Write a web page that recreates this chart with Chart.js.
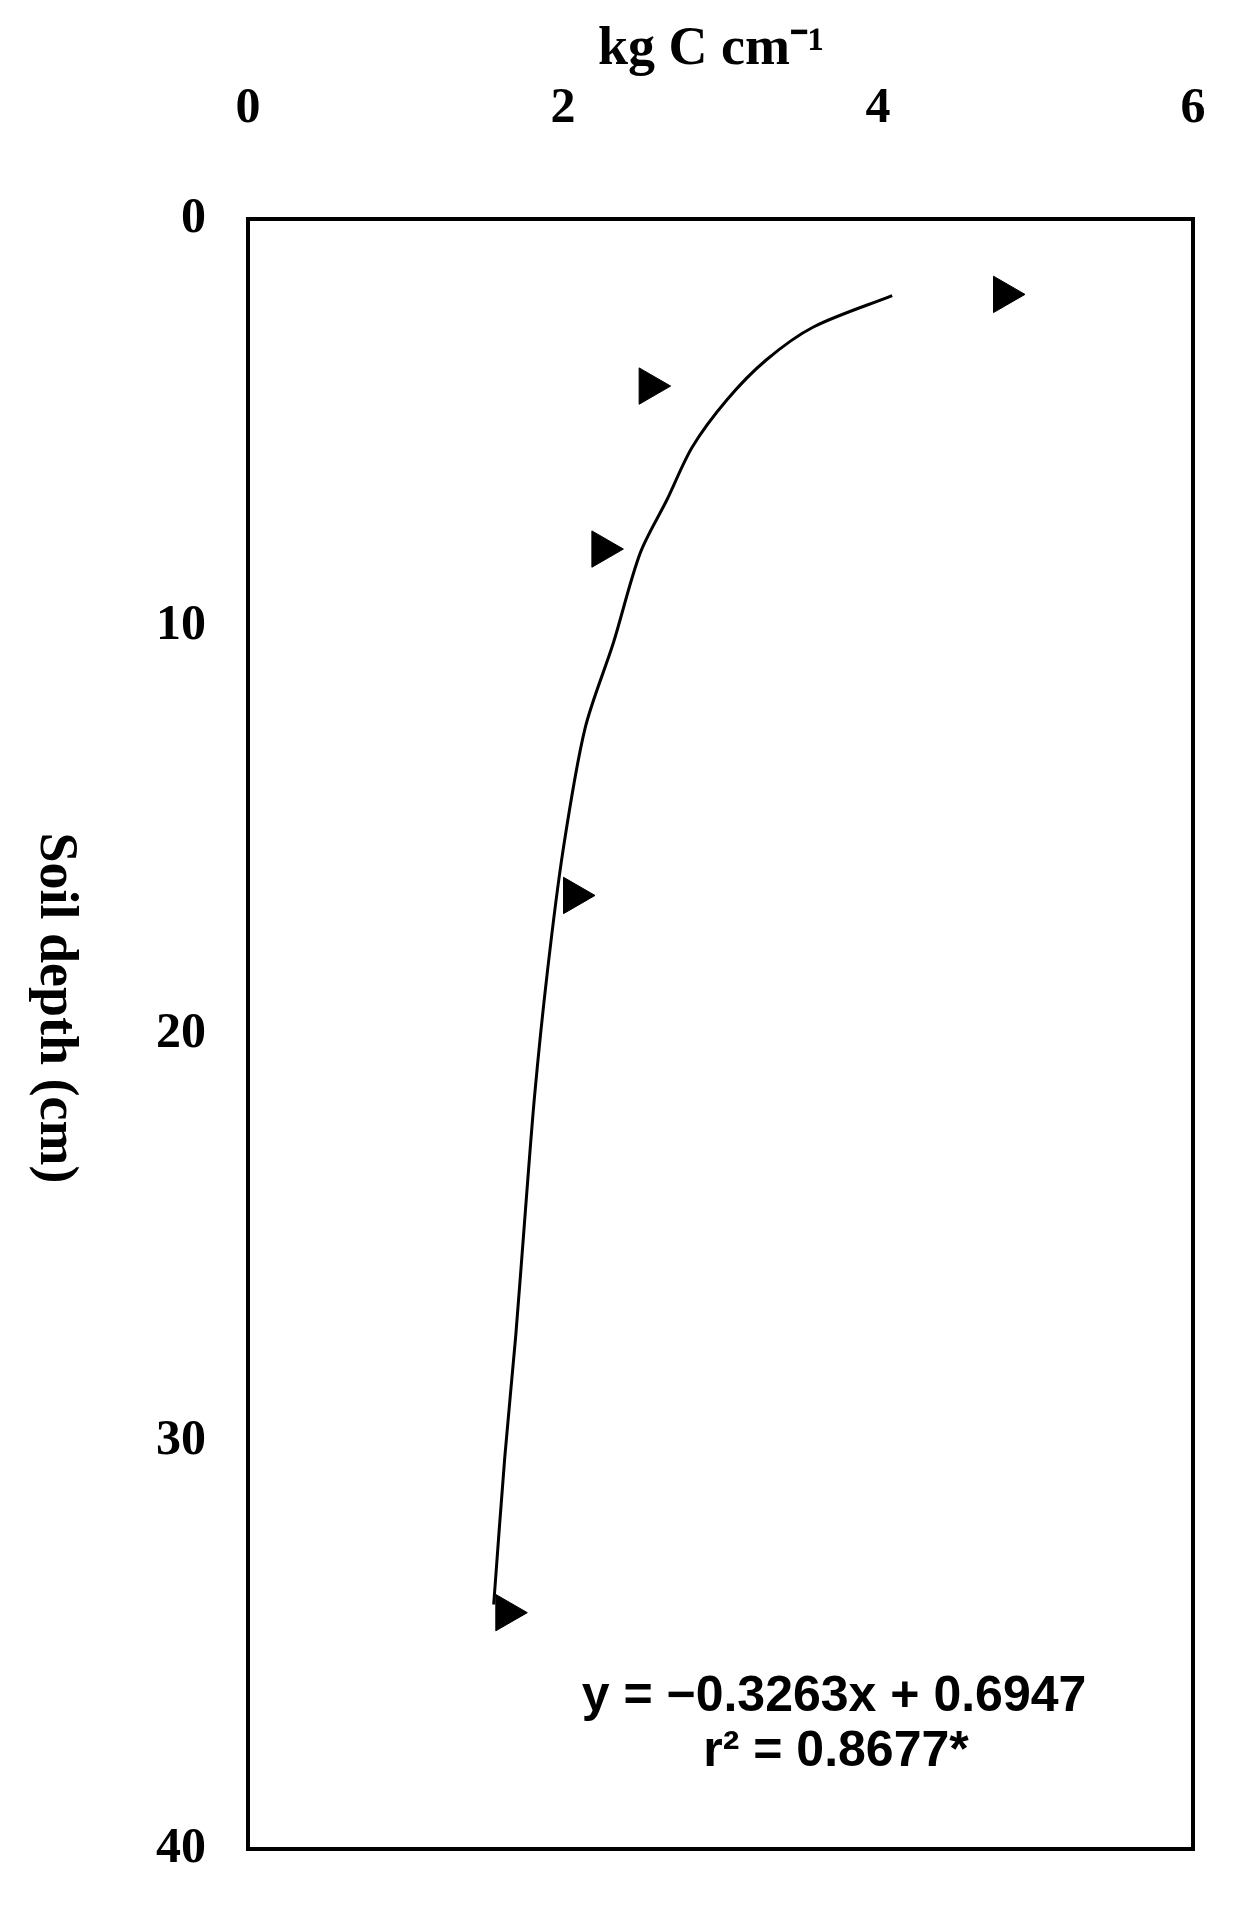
<!DOCTYPE html>
<html><head><meta charset="utf-8">
<script src="https://cdn.jsdelivr.net/npm/chart.js@4/dist/chart.umd.min.js"></script>
<style>html,body{margin:0;padding:0;background:#fff}#wrap{width:1244px;height:1916px}</style>
</head><body><div id="wrap"><canvas id="c" width="1244" height="1916"></canvas></div>
<script>
const carbonValues = [4.8, 2.55, 2.25, 2.07, 1.64];
const depthValues = [1.85, 4.1, 8.1, 16.6, 34.2];
const fitCarbon = [4.09, 3.59, 3.29, 3.04, 2.82, 2.66, 2.49, 2.32, 2.14, 2.0, 1.9, 1.82, 1.76, 1.7, 1.63, 1.56];
const fitDepth = [1.88, 2.65, 3.46, 4.44, 5.6, 6.89, 8.2, 10.4, 12.5, 15.5, 18.5, 21.5, 24.4, 27.4, 30.4, 34.0];
const xTicks = [0, 2, 4, 6];
const yTicks = [0, 10, 20, 30, 40];
const xTitle = 'kg C cm\u207B\u00B9';
const yTitle = 'Soil depth (cm)';
const eqLines = ['y = \u22120.3263x + 0.6947', 'r\u00B2 = 0.8677*'];

const serif = '"Liberation Serif", "Times New Roman", serif';
const extras = {
  id: 'extras',
  afterDraw(chart) {
    const ctx = chart.ctx, a = chart.chartArea;
    ctx.save();
    ctx.strokeStyle = '#000'; ctx.lineWidth = 4;
    ctx.strokeRect(a.left, a.top, a.right - a.left, a.bottom - a.top);
    ctx.fillStyle = '#000';
    ctx.textAlign = 'center'; ctx.textBaseline = 'middle';
    ctx.font = 'bold 54px ' + serif;
    ctx.fillText(xTitle, 711, 50);
    ctx.save();
    ctx.translate(55, 1008); ctx.rotate(Math.PI / 2);
    ctx.fillText(yTitle, 0, 0);
    ctx.restore();
    ctx.font = 'bold 50px "Liberation Sans", Arial, sans-serif';
    ctx.fillText(eqLines[0], 834, 1697);
    ctx.fillText(eqLines[1], 836, 1752);
    ctx.restore();
  }
};

new Chart(document.getElementById('c'), {
  type: 'scatter',
  data: { datasets: [
    { data: fitCarbon.map((x, i) => ({x, y: fitDepth[i]})), showLine: true, tension: 0.3,
      borderColor: '#000', borderWidth: 3, pointRadius: 0, fill: false },
    { data: carbonValues.map((x, i) => ({x, y: depthValues[i]})), pointStyle: 'triangle', rotation: 90,
      pointRadius: 21, backgroundColor: '#000', borderColor: '#000', borderWidth: 1 }
  ]},
  options: {
    responsive: false, animation: false, devicePixelRatio: 1,
    layout: { padding: { left: 0, top: 0, right: 51, bottom: 67 } },
    plugins: { legend: { display: false }, tooltip: { enabled: false } },
    scales: {
      x: { type: 'linear', position: 'top', min: 0, max: 6,
        afterBuildTicks: s => { s.ticks = xTicks.map(v => ({value: v})); },
        afterFit: s => { s.height = 219; s.paddingLeft = 0; s.paddingRight = 0; },
        grid: { display: false }, border: { display: false },
        ticks: { padding: 72, color: '#000', font: { family: serif, weight: 'bold', size: 50 } } },
      y: { type: 'linear', reverse: true, min: 0, max: 40,
        afterBuildTicks: s => { s.ticks = yTicks.map(v => ({value: v})); },
        afterFit: s => { s.width = 248; s.paddingTop = 0; s.paddingBottom = 0; },
        grid: { display: false }, border: { display: false },
        ticks: { padding: 34, color: '#000', font: { family: serif, weight: 'bold', size: 50 } } }
    }
  },
  plugins: [extras]
});
</script></body></html>
